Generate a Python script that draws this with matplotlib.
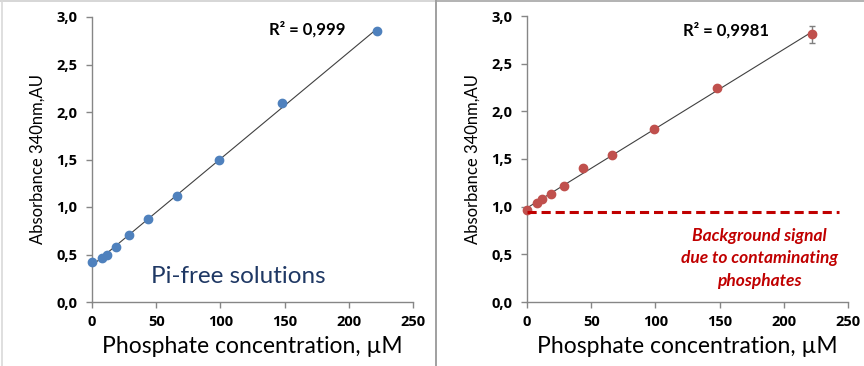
import numpy as np
import matplotlib
matplotlib.use("Agg")
import matplotlib.pyplot as plt
from matplotlib.lines import Line2D

# ---- data ----
conc = [0, 8, 12, 19, 29, 44, 66, 99, 148, 222]
abs_pi_free = [0.42, 0.46, 0.50, 0.58, 0.71, 0.87, 1.12, 1.50, 2.09, 2.85]
abs_contam = [0.97, 1.04, 1.08, 1.13, 1.22, 1.41, 1.54, 1.81, 2.24, 2.81]
err_contam = [0, 0, 0, 0, 0, 0, 0, 0, 0, 0.09]
background_level = 0.94
background_xmax = 243
r2_left = "R² = 0,999"
r2_right = "R² = 0,9981"
xticks = [0, 50, 100, 150, 200, 250]
yticks = [0.0, 0.5, 1.0, 1.5, 2.0, 2.5, 3.0]

plt.rcParams['font.family'] = ['Lato', 'DejaVu Sans']

fig = plt.figure(figsize=(8.64, 3.66), dpi=100)
W, H = 864, 366

def make_ax(left_px, right_px, top_px, bottom_px):
    return fig.add_axes([left_px / W, 1 - bottom_px / H,
                         (right_px - left_px) / W, (bottom_px - top_px) / H])

axL = make_ax(92, 413, 17, 302)
axR = make_ax(527, 848, 16, 302)

spine_col = '#868686'
tick_font = dict(fontfamily=['Open Sans', 'DejaVu Sans'], fontweight='bold', fontsize=10.5)

def style(ax):
    ax.set_xlim(0, 250)
    ax.set_ylim(0, 3.0)
    ax.set_xticks(xticks)
    ax.set_yticks(yticks)
    ax.set_xticklabels([str(t) for t in xticks], **tick_font)
    ax.set_yticklabels([f"{t:.1f}".replace('.', ',') for t in yticks], **tick_font)
    for s in ['top', 'right']:
        ax.spines[s].set_visible(False)
    for s in ['left', 'bottom']:
        ax.spines[s].set_color(spine_col)
        ax.spines[s].set_linewidth(1.0)
    ax.tick_params(axis='both', direction='out', length=4.5, width=1.0,
                   color=spine_col)
    ax.tick_params(axis='y', pad=6)
    ax.tick_params(axis='x', pad=5)
    ax.set_xlabel("Phosphate concentration, µM", fontsize=16.5, labelpad=5)
    ax.set_ylabel("Absorbance 340nm,AU", fontsize=12, labelpad=8)
    ax.patch.set_alpha(0)

x = np.array(conc, dtype=float)

# left panel
yl = np.array(abs_pi_free)
pl = np.polyfit(x, yl, 1)
xx = np.array([x.min(), x.max()])
axL.plot(xx, np.polyval(pl, xx), color='#404040', lw=0.8, zorder=2)
axL.plot(x, yl, 'o', color='#4F81BD', ms=6, mec='#4F81BD', zorder=3, clip_on=False)
axL.text(168, 2.87, r2_left, ha='center', va='center', fontsize=12, fontweight='bold')
axL.text(114, 0.27, "Pi-free solutions", ha='center', va='center', fontsize=17.5,
         color='#1F3864')
style(axL)

# right panel
yr = np.array(abs_contam)
pr = np.polyfit(x, yr, 1)
axR.plot(xx, np.polyval(pr, xx), color='#404040', lw=0.8, zorder=2)
axR.errorbar(x, yr, yerr=err_contam, fmt='none', ecolor='#7F7F7F', elinewidth=1,
             capsize=2.5, capthick=1, zorder=2)
axR.plot(x, yr, 'o', color='#C0504D', ms=6, mec='#C0504D', zorder=3, clip_on=False)
axR.plot([0, background_xmax], [background_level, background_level], color='#C00000',
         lw=2.2, dashes=(3, 1.6), zorder=4, clip_on=False)
axR.text(155, 2.85, r2_right, ha='center', va='center', fontsize=12, fontweight='bold')
axR.text(181, 0.46, "Background signal\ndue to contaminating\nphosphates", ha='center',
         va='center', fontsize=12.5, color='#C00000', fontweight='bold', style='italic',
         linespacing=1.5)
style(axR)

# figure borders
fig.add_artist(Line2D([0, 435.5 / W], [1 - 0.8 / H] * 2, color='#D0D0D0', lw=1.2,
                      transform=fig.transFigure))
fig.add_artist(Line2D([435.5 / W, 1], [1 - 0.8 / H] * 2, color='#A6A6A6', lw=1.2,
                      transform=fig.transFigure))
fig.add_artist(Line2D([1.5 / W] * 2, [0, 1], color='#D9D9D9', lw=1.2,
                      transform=fig.transFigure))
fig.add_artist(Line2D([435.5 / W] * 2, [0, 1], color='#A0A0A0', lw=1.4,
                      transform=fig.transFigure))

fig.savefig("out.png", dpi=100)
